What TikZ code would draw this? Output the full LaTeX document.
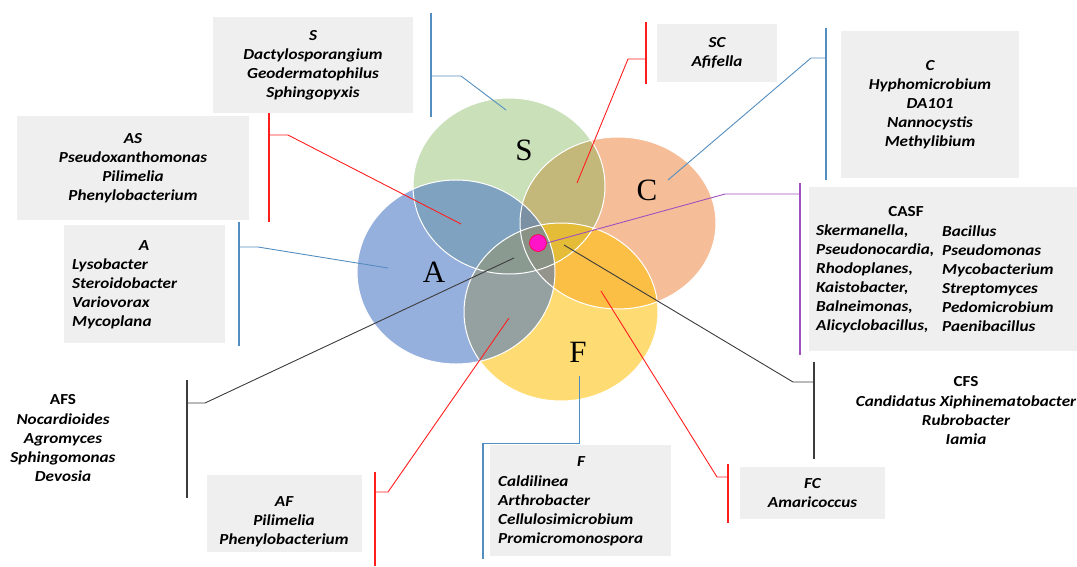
\documentclass[tikz,border=0pt]{standalone}
\usepackage{fontspec}
\setmainfont{Carlito}[FakeStretch=1.12]
\newfontfamily\circfont{Liberation Serif}
\usetikzlibrary{shapes.geometric}
\definecolor{boxgray}{RGB}{239,239,239}
\definecolor{cblue}{RGB}{84,141,191}
\definecolor{cred}{RGB}{255,30,30}
\definecolor{cpurple}{RGB}{160,80,190}
\definecolor{cblack}{RGB}{60,60,60}
\definecolor{sgreen}{RGB}{112,173,71}
\definecolor{ablue}{RGB}{68,114,196}
\definecolor{corange}{RGB}{237,125,49}
\definecolor{fyellow}{RGB}{255,192,0}
\definecolor{dotpink}{RGB}{255,20,200}
\begin{document}
\begin{tikzpicture}[x=1pt,y=-1pt,
  gbox/.style={fill=boxgray, draw=none, inner sep=0pt, outer sep=0pt},
  lab/.style={font=\fontsize{15.3}{19}\selectfont\bfseries\itshape, align=center, inner sep=0pt},
  labl/.style={font=\fontsize{15.3}{19}\selectfont\bfseries\itshape, align=left, inner sep=0pt, anchor=west},
  hdr/.style={font=\fontsize{15.3}{19}\selectfont\bfseries, inner sep=0pt},
  conn/.style={line width=0.9pt},
  brk/.style={line width=1.1pt},
  venn/.style={ellipse, inner sep=0pt, outer sep=0pt, draw=none},
  vedge/.style={draw=white, line width=1pt},
  big/.style={font=\circfont\fontsize{31}{31}\selectfont, inner sep=0pt}]
\useasboundingbox (0,0) rectangle (1077,566);

% ---- Venn ellipses ----
\node[venn, fill=corange, fill opacity=0.5, minimum width=196, minimum height=172] (Cc) at (618,223) {};
\node[venn, fill=sgreen, fill opacity=0.38, minimum width=192, minimum height=176] (Sc) at (509,186) {};
\node[venn, fill=fyellow, fill opacity=0.55, minimum width=194, minimum height=178] (Fc) at (561,312) {};
\node[venn, fill=ablue, fill opacity=0.56, minimum width=198, minimum height=184] (Ac) at (456,272) {};
\draw[vedge] (Cc.center) ellipse [x radius=98, y radius=86];
\draw[vedge] (Sc.center) ellipse [x radius=96, y radius=88];
\draw[vedge] (Fc.center) ellipse [x radius=97, y radius=89];
\draw[vedge] (Ac.center) ellipse [x radius=99, y radius=92];

\node[big] (Sl) at (524,150) {S};
\node[big] (Cl) at (647,190) {C};
\node[big] (Al) at (434,272) {A};
\node[big] (Fl) at (578,352) {F};

\node[circle, fill=dotpink, draw=red!80!magenta, line width=0.6pt, minimum size=17, inner sep=0pt] (dot) at (538,243) {};

% ---- boxes ----
\node[gbox, lab, minimum width=200, minimum height=96] (Sbox) at (313,65)
  {S\\Dactylosporangium\\Geodermatophilus\\Sphingopyxis};
\node[gbox, lab, minimum width=232, minimum height=104] (ASbox) at (133,168)
  {AS\\Pseudoxanthomonas\\Pilimelia\\Phenylobacterium};
\node[gbox, minimum width=161, minimum height=118] (Abox) at (144.5,284) {};
\node[lab] (Ahd) at (144,246) {A};
\node[labl] (Atx) at (72,293.5) {Lysobacter\\Steroidobacter\\Variovorax\\Mycoplana};
\node[gbox, lab, minimum width=120, minimum height=58] (SCbox) at (717,53) {SC\\Afifella};
\node[gbox, lab, minimum width=178, minimum height=147] (Cbox) at (930,104.5)
  {C\\Hyphomicrobium\\DA101\\Nannocystis\\Methylibium};
\node[gbox, minimum width=268, minimum height=164] (CASFbox) at (943,269) {};
\node[hdr] (CASFhd) at (906,212) {CASF};
\node[labl] (CASF1) at (816,279) {Skermanella,\\Pseudonocardia,\\Rhodoplanes,\\Kaistobacter,\\Balneimonas,\\Alicyclobacillus,};
\node[labl] (CASF2) at (942,279) {Bacillus\\Pseudomonas\\Mycobacterium\\Streptomyces\\Pedomicrobium\\Paenibacillus};
\node[gbox, minimum width=155, minimum height=77] (AFbox) at (284.5,513.5) {};
\node[lab] (AFtx) at (284,522) {AF\\Pilimelia\\Phenylobacterium};
\node[gbox, minimum width=181, minimum height=111] (Fbox) at (580.5,500.5) {};
\node[lab] (Fhd) at (581,462) {F};
\node[labl] (Ftx) at (498,511) {Caldilinea\\Arthrobacter\\Cellulosimicrobium\\Promicromonospora};
\node[gbox, lab, minimum width=145, minimum height=52] (FCbox) at (812.5,493) {FC\\Amaricoccus};

% free-standing labels
\node[hdr] (AFShd) at (63,400) {AFS};
\node[lab] (AFStx) at (63,448) {Nocardioides\\Agromyces\\Sphingomonas\\Devosia};
\node[hdr] (CFShd) at (966,382) {CFS};
\node[lab] (CFStx) at (966,420) {Candidatus Xiphinematobacter\\Rubrobacter\\Iamia};

% ---- connector anchor points ----
\coordinate (pS) at (506,110);
\coordinate (pAS) at (461,224);
\coordinate (pA) at (388,268);
\coordinate (pSC) at (577,183);
\coordinate (pC) at (668,180);
\coordinate (pAFS) at (514,258);
\coordinate (pCFS) at (564,245);
\coordinate (pAF) at (509,318);
\coordinate (pF) at (579,376);
\coordinate (pFC) at (601,291);

% ---- brackets and connectors ----
% S
\coordinate (bS1) at (431,13); \coordinate (bS2) at (431,117); \coordinate (bSm) at (431,76);
\draw[cblue, brk] (bS1) -- (bS2);
\draw[cblue, conn] (bSm) -- (461,76) -- (pS);
% AS
\coordinate (bAS1) at (269,113); \coordinate (bAS2) at (269,222); \coordinate (bASm) at (269,135);
\draw[cred, brk] (bAS1) -- (bAS2);
\draw[cred, conn] (bASm) -- (288,135) -- (pAS);
% A
\coordinate (bA1) at (239,222); \coordinate (bA2) at (239,346); \coordinate (bAm) at (239,247);
\draw[cblue, brk] (bA1) -- (bA2);
\draw[cblue, conn] (bAm) -- (258,247) -- (pA);
% SC
\coordinate (bSC1) at (646,22); \coordinate (bSC2) at (646,84); \coordinate (bSCm) at (646,59);
\draw[cred, brk] (bSC1) -- (bSC2);
\draw[cred, conn] (bSCm) -- (628,59) -- (pSC);
% C
\coordinate (bC1) at (826,28); \coordinate (bC2) at (826,180); \coordinate (bCm) at (826,58);
\draw[cblue, brk] (bC1) -- (bC2);
\draw[cblue, conn] (bCm) -- (811,58) -- (pC);
% CASF
\coordinate (bCA1) at (800,183); \coordinate (bCA2) at (800,355); \coordinate (bCAm) at (800,194);
\draw[cpurple, brk] (bCA1) -- (bCA2);
\draw[cpurple, conn] (bCAm) -- (725,194) -- (dot.east);
% CFS
\coordinate (bCF1) at (814,362); \coordinate (bCF2) at (814,459); \coordinate (bCFm) at (814,382);
\draw[cblack, brk] (bCF1) -- (bCF2);
\draw[cblack, conn] (bCFm) -- (793,382) -- (pCFS);
% AFS
\coordinate (bAFS1) at (187,380); \coordinate (bAFS2) at (187,498); \coordinate (bAFSm) at (187,403);
\draw[cblack, brk] (bAFS1) -- (bAFS2);
\draw[cblack, conn] (bAFSm) -- (205,403) -- (pAFS);
% AF
\coordinate (bAF1) at (375,472); \coordinate (bAF2) at (375,566); \coordinate (bAFm) at (375,492);
\draw[cred, brk] (bAF1) -- (bAF2);
\draw[cred, conn] (bAFm) -- (388,492) -- (pAF);
% F
\coordinate (bF1) at (483,443); \coordinate (bF2) at (483,559);
\draw[cblue, brk] (bF1) -- (bF2);
\draw[cblue, conn] (pF) -- (579,443) -- (bF1);
% FC
\coordinate (bFC1) at (728,464); \coordinate (bFC2) at (728,523); \coordinate (bFCm) at (728,477);
\draw[cred, brk] (bFC1) -- (bFC2);
\draw[cred, conn] (bFCm) -- (717,477) -- (pFC);
\end{tikzpicture}
\end{document}
